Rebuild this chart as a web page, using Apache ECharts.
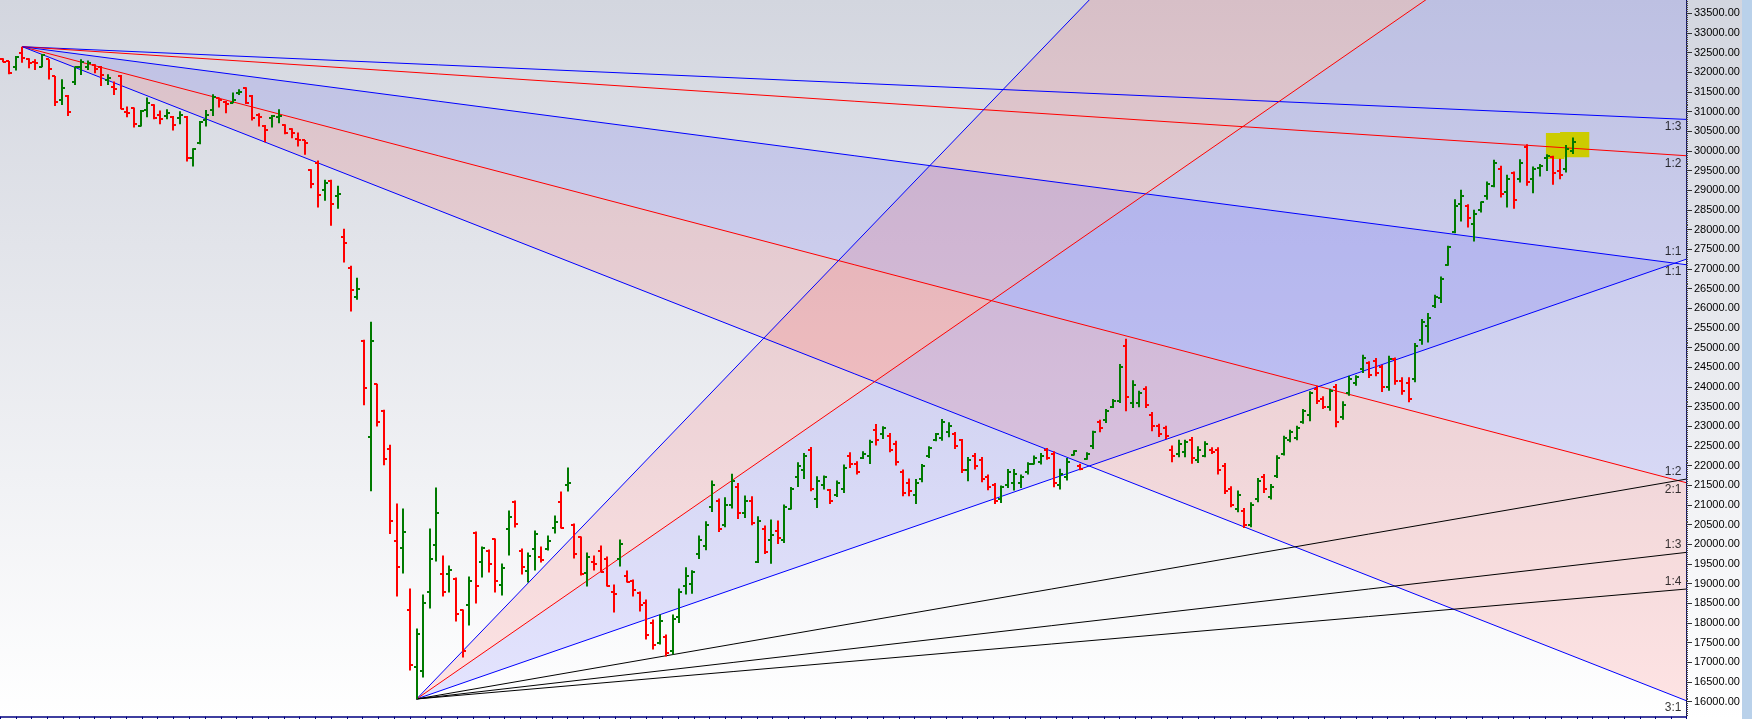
<!DOCTYPE html>
<html><head><meta charset="utf-8">
<script src="https://cdn.jsdelivr.net/npm/echarts@6/dist/echarts.min.js"></script>
<style>html,body{margin:0;padding:0;background:#fff}#c{width:1752px;height:719px}</style>
</head><body><div id="c"></div>
<script>
// ---- OHLC bars (index = bar number) ----
const opens = [32330,32290,32130,32480,32330,32255,32130,32330,31905,31300,31408,31764,32145,32145,32187,32145,31806,31620,31916,31002,31086,30638,31044,31171,30917,30900,30875,30832,30875,29833,30197,30790,31044,31357,31255,31230,31467,31594,31408,30917,30646,30850,30860,30663,30561,30300,30282,29520,29706,29012,29248,28850,27810,27031,26286,25177,22738,24076,23381,22425,20097,19911,18319,16871,16769,18801,19995,19258,19250,19131,18319,18471,20300,19563,19843,20148,18979,20402,21087,19843,19335,19894,19690,19894,20427,21087,21500,20503,20198,19284,19563,19843,19640,18800,19640,19208,19081,18776,18500,18000,17500,17650,17300,18150,18937,19000,19750,19950,20950,21100,20500,21000,21450,20800,21100,19550,20400,20100,20350,20100,20900,21700,21900,22400,21150,21500,21380,21250,21400,22250,22050,22200,22250,22900,22800,22750,22550,21850,21550,21250,21650,22250,22650,22700,22850,22800,22650,21900,22250,22150,21700,21500,21150,21500,21550,21550,21850,22050,22100,22400,22300,21500,21700,22280,22000,22180,22500,23100,23150,23500,23650,25050,23600,23600,23950,23300,23000,22950,22400,22300,22350,22650,22150,22250,22400,22400,22000,21400,20900,20850,20500,21150,21700,21200,21750,22300,22650,22700,23100,23300,23950,23700,23500,24000,23250,23850,24100,24450,24600,24650,24500,24000,24700,24150,24100,24200,25200,25550,26050,26250,27100,27950,28650,28600,28150,28500,28850,29100,29550,28950,29450,29300,30100,29300,29580,29830,29850,29500,29550,30000];
const highs = [32360,32290,32415,32650,32355,32330,32465,32330,31905,31823,31425,32145,32331,32297,32204,32162,31950,31764,31933,31129,31103,31044,31357,31188,31027,31061,30892,31010,30892,30070,30764,31044,31442,31357,31272,31484,31569,31620,31425,30959,30663,30917,31061,30680,30578,30468,30282,29537,29756,29266,29266,29114,28021,27081,26777,25202,25659,24084,23424,22535,21036,20910,18878,17862,18725,20402,21443,19716,19462,19157,18344,19182,20325,19944,19868,20148,19512,20859,21113,19894,19792,20351,19944,20224,20732,21341,21951,20529,20198,19792,19716,19970,19690,18979,20122,19335,19106,18801,18598,18090,18217,17710,18217,18877,19419,19343,20224,20588,21621,21163,21197,21798,21561,21240,21223,20715,20478,20630,20605,21011,21460,22086,22323,22476,21731,21748,21409,21621,22027,22340,22112,22366,22662,23060,23000,22831,22637,21900,21672,21663,22044,22493,22831,23187,23102,22857,22679,22222,22323,22222,21773,21561,21494,21917,21917,21773,22086,22256,22323,22450,22366,21925,22196,22391,22052,22340,22890,23170,23441,23695,24584,25227,24169,23907,24017,23365,23068,23017,22510,22662,22662,22730,22493,22620,22467,22467,22069,21477,21367,20926,21070,21688,21790,21536,22264,22764,22916,23017,23441,23890,24034,23763,23958,24076,23636,24288,24296,24821,24652,24736,24567,24796,24753,24250,24250,25117,25727,25879,26345,26810,27589,28775,29012,28648,28504,28716,29224,29774,29622,29393,29478,29791,30172,29605,29672,29918,29876,29800,30155,30341];
const lows = [32255,31950,32045,32245,32100,32060,32130,31820,31145,31171,30892,31679,31933,32060,31975,31654,31679,31425,31061,30858,30595,30621,30858,30807,30680,30807,30519,30680,29732,29605,30172,30621,30892,31103,30959,31213,31425,31196,30773,30621,30223,30595,30705,30426,30324,30113,29901,29054,28563,28733,28098,28530,27166,25921,26218,23534,21349,22998,22010,20265,18674,19259,16795,16070,16617,18370,19563,18674,18776,18039,17125,17938,18497,19157,19284,18776,18700,19716,20427,19233,19030,19335,19538,19843,20275,20402,21341,19640,19208,18928,19335,19284,18928,18268,19436,19030,18674,18293,17582,17330,17455,17150,17200,18000,18725,18742,19631,19851,20825,20317,20435,20909,20647,20672,20486,19529,19758,19504,20012,20037,20884,21460,21663,21350,20926,21392,21028,21206,21307,21942,21773,22171,22044,22510,22679,22340,22002,21223,21223,21028,21578,22196,22620,22637,22721,22425,21815,21604,21900,21578,21375,21028,21053,21434,21367,21434,21773,22027,22027,22154,21451,21392,21621,22256,21883,22154,22425,22848,23085,23466,23593,23382,23466,23483,23466,22874,22730,22679,22086,22213,22213,22052,22069,22213,22298,21773,21282,20943,20816,20418,20435,21070,21307,21138,21688,22256,22594,22645,23068,23128,23568,23441,23398,22975,23170,23780,24034,24355,24228,24271,23873,23907,24059,23805,23610,24118,25074,25134,26006,26133,27081,27911,28207,28055,27700,28436,28758,29080,28817,28563,28529,29198,29114,28927,29351,29494,29139,29283,29452,29926];
const closes = [32270,31990,32400,32355,32245,32230,32440,32075,31255,31600,31002,32128,32272,32246,32077,31933,31848,31580,31069,30976,30688,31027,31230,30832,30807,30960,30663,30917,29833,30062,30748,30917,31382,31298,31200,31300,31510,31230,30832,30858,30536,30900,30900,30451,30451,30282,30197,29164,28885,29182,28649,28900,27657,26463,26489,23974,25168,23110,22171,20604,19436,20318,16929,17734,18497,19640,20808,18801,19350,18217,17277,19081,18954,19919,19512,19081,19411,20707,20529,19436,19716,20275,19614,20097,20580,20427,21560,19766,19258,19690,19512,19310,18954,18750,20021,19055,18852,18471,17700,17450,18050,17250,18100,18800,19191,19300,20100,20500,21500,20400,21000,21600,20800,21100,20550,20600,19800,20250,20150,20950,21400,22000,22250,21400,21600,21700,21100,21550,21950,22050,21850,22300,22600,22650,22950,22400,22100,21300,21350,21550,22000,22450,22800,23100,23000,22500,21900,22150,22000,21650,21450,21100,21450,21850,21800,21700,22050,22200,22250,22200,21550,21800,22100,22370,21920,22300,22850,22950,23400,23650,24500,23750,24050,23850,23550,23000,22800,22750,22250,22550,22600,22200,22400,22550,22350,21900,21350,21000,21250,20500,21000,21600,21400,21450,22200,22700,22850,22950,23400,23850,23650,23500,23900,23100,23550,24200,24250,24750,24300,24350,24000,24700,24150,23900,23700,25050,25650,25750,26300,26750,27550,28600,28850,28300,28400,28700,29150,29700,28900,29300,28750,29700,29200,29550,29620,29870,29450,29400,30050,30230];

// ---- price axis tick labels ----
const priceTicks = [16000,16500,17000,17500,18000,18500,19000,19500,20000,20500,21000,21500,22000,22500,23000,23500,24000,24500,25000,25500,26000,26500,27000,27500,28000,28500,29000,29500,30000,30500,31000,31500,32000,32500,33000,33500];

// ---- Gann fans ----
const highFanOrigin = [3, 32650];
const highFanUnit = -21.88;            // price per bar of the 1x1 line
const highFanRatios = [1/3, 1/2, 1, 2, 3];
const highFanNames = ['1:3', '1:2', '1:1', '2:1', '3:1'];
const highFanColors = ['#0000ff', '#ff0000', '#0000ff', '#ff0000', '#0000ff'];
const highFanBands = [[2, 3, 'blue'], [3, 4, 'red']];

const lowFanOrigin = [63, 16069];
const lowFanUnit = 57.85;
const lowFanRatios = [3, 2, 1, 1/2, 1/3, 1/4];
const lowFanNames = ['3:1', '2:1', '1:1', '1:2', '1:3', '1:4'];
const lowFanColors = ['#0000ff', '#ff0000', '#0000ff', '#000000', '#000000', '#000000'];
const lowFanBands = [[0, 1, 'red'], [1, 2, 'blue']];

// ---- highlight boxes [x1, x2, priceTop, priceBottom] ----
const highlightBoxes = [[234.9, 237.7, 30457, 29796], [237.05, 241.5, 30483, 29839]];

const X_MIN = -0.4, X_MAX = 256.22, Y_MIN = 15619, Y_MAX = 33838;
const bandFill = { blue: 'rgba(0,0,255,0.10)', red: 'rgba(255,0,0,0.105)' };

function fanEnd(origin, unit, r) { return origin[1] + unit * r * (X_MAX - origin[0]); }

const series = [];
const bandData = [];
const bandColors = [];
function addFan(origin, unit, ratios, names, colors, bands, labelDy) {
  const ends = ratios.map(r => fanEnd(origin, unit, r));
  bands.forEach(b => {
    bandData.push([origin[0], origin[1], X_MAX, ends[b[0]], ends[b[1]]]);
    bandColors.push(bandFill[b[2]]);
  });
  ratios.forEach((r, k) => {
    series.push({
      type: 'line', z: 4, silent: true, symbol: 'none', animation: false,
      data: [[origin[0], origin[1]], [X_MAX, ends[k]]],
      lineStyle: { color: colors[k], width: 1 }
    });
  });
  const lab = [];
  ratios.forEach((r, k) => {
    if (ends[k] > Y_MIN && ends[k] < Y_MAX) lab.push({ value: [X_MAX, ends[k]], name: names[k] });
  });
  series.push({
    type: 'scatter', z: 6, silent: true, clip: false, animation: false,
    symbolSize: 1, itemStyle: { color: 'rgba(0,0,0,0)' },
    data: lab,
    label: {
      show: true, position: 'left', distance: 4, offset: [0, labelDy],
      formatter: p => p.name, color: '#000', fontSize: 12, fontFamily: 'Liberation Sans'
    }
  });
}
addFan(highFanOrigin, highFanUnit, highFanRatios, highFanNames, highFanColors, highFanBands, 7.5);
addFan(lowFanOrigin, lowFanUnit, lowFanRatios, lowFanNames, lowFanColors, lowFanBands, -7.3);

series.unshift({
  type: 'custom', z: 1, silent: true, clip: true, animation: false,
  data: bandData,
  renderItem: function (params, api) {
    const p0 = api.coord([api.value(0), api.value(1)]);
    const pa = api.coord([api.value(2), api.value(3)]);
    const pb = api.coord([api.value(2), api.value(4)]);
    return { type: 'polygon', shape: { points: [p0, pa, pb] }, style: { fill: bandColors[params.dataIndex] } };
  }
});

series.push({
  type: 'custom', z: 2, silent: true, clip: true, animation: false,
  data: highlightBoxes,
  renderItem: function (params, api) {
    const a = api.coord([api.value(0), api.value(2)]);
    const b = api.coord([api.value(1), api.value(3)]);
    return { type: 'rect', shape: { x: a[0], y: a[1], width: b[0] - a[0], height: b[1] - a[1] }, style: { fill: '#cccc00' } };
  }
});

series.push({
  type: 'custom', z: 5, silent: true, clip: true, animation: false,
  data: opens.map((o, i) => [i, o, highs[i], lows[i], closes[i]]),
  renderItem: function (params, api) {
    const i = api.value(0);
    const ph = api.coord([i, api.value(2)]);
    const pl = api.coord([i, api.value(3)]);
    const po = api.coord([i, api.value(1)]);
    const pc = api.coord([i, api.value(4)]);
    const x = Math.round(ph[0]);
    const col = api.value(4) >= api.value(1) ? '#007a00' : '#ff0000';
    const st = { stroke: col, lineWidth: 2 };
    return {
      type: 'group', children: [
        { type: 'line', shape: { x1: x, y1: ph[1], x2: x, y2: pl[1] }, style: st },
        { type: 'line', shape: { x1: x - 3, y1: Math.round(po[1]), x2: x, y2: Math.round(po[1]) }, style: st },
        { type: 'line', shape: { x1: x, y1: Math.round(pc[1]), x2: x + 3, y2: Math.round(pc[1]) }, style: st }
      ]
    };
  }
});

const minorTicks = [];
for (let v = 15650; v < Y_MAX; v += 50) minorTicks.push(v);

const gridBox = { left: 0, right: 66, top: 0, height: 716.7, containLabel: false };

const chart = echarts.init(document.getElementById('c'), null, { renderer: 'canvas' });
chart.setOption({
  animation: false,
  graphic: [
    { type: 'rect', z: -100, silent: true, shape: { x: 0, y: 0, width: 1752, height: 719 },
      style: { fill: new echarts.graphic.LinearGradient(0, 0, 0, 1, [{ offset: 0, color: '#d3d6df' }, { offset: 1, color: '#ffffff' }]) } },
    { type: 'rect', z: -90, silent: true, shape: { x: 1742, y: 0, width: 10, height: 719 }, style: { fill: '#b9d1ea' } }
  ],
  grid: [Object.assign({}, gridBox), Object.assign({}, gridBox)],
  xAxis: [{
    type: 'value', gridIndex: 0, min: X_MIN, max: X_MAX, interval: 2.4,
    axisLine: { show: true, onZero: false, lineStyle: { color: '#000080', width: 1.5 } },
    axisTick: { show: true, length: 3, lineStyle: { color: '#000080' } },
    axisLabel: { show: false }, splitLine: { show: false }
  }, {
    type: 'value', gridIndex: 1, min: X_MIN, max: X_MAX, show: false
  }],
  yAxis: [{
    type: 'value', gridIndex: 0, position: 'right', min: Y_MIN, max: Y_MAX,
    axisLine: { show: true, onZero: false, lineStyle: { color: '#000080', width: 1 } },
    axisTick: { show: true, length: 2, customValues: minorTicks, lineStyle: { color: '#444' } },
    axisLabel: { show: true, customValues: priceTicks, margin: 8, color: '#000', fontSize: 11,
      fontFamily: 'Liberation Sans', formatter: v => v.toFixed(2) },
    splitLine: { show: false }
  }, {
    type: 'value', gridIndex: 1, position: 'right', min: Y_MIN, max: Y_MAX,
    axisLine: { show: false, onZero: false },
    axisTick: { show: true, length: 6, customValues: priceTicks, lineStyle: { color: '#333' } },
    axisLabel: { show: false }, splitLine: { show: false }
  }],
  series: series
});
</script></body></html>
